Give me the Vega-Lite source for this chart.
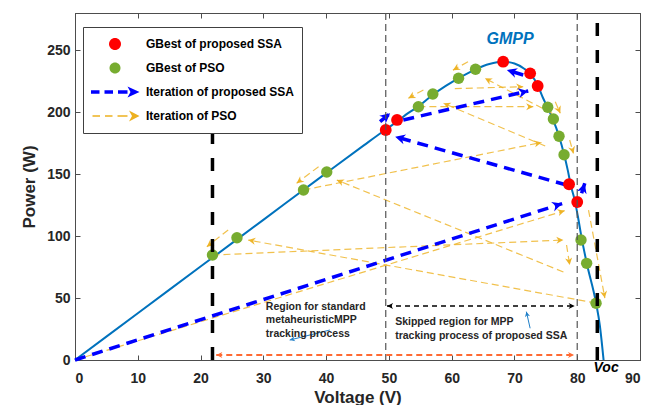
{
  "$schema": "https://vega.github.io/schema/vega-lite/v6.json",
  "width": 565,
  "height": 347,
  "autosize": {"type": "none"},
  "padding": {"left": 75, "top": 13, "right": 22, "bottom": 45},
  "background": "white",
  "config": {
    "font": "Liberation Sans",
    "view": {"stroke": "#4d4d4d", "strokeWidth": 1},
    "axis": {
      "grid": false,
      "domainColor": "#4d4d4d",
      "tickColor": "#4d4d4d",
      "tickSize": -5,
      "labelFont": "Liberation Sans",
      "labelFontWeight": "bold",
      "labelFontSize": 14,
      "labelColor": "#262626",
      "titleFont": "Liberation Sans",
      "titleFontWeight": "bold",
      "titleFontSize": 17,
      "titleColor": "#262626"
    }
  },
  "datasets": {
    "curve": [
      {"v": 0, "p": 0}, {"v": 10, "p": 37.7}, {"v": 20, "p": 75.4}, {"v": 30, "p": 113.1},
      {"v": 40, "p": 150.8}, {"v": 46, "p": 173.2}, {"v": 49.5, "p": 186}, {"v": 51.5, "p": 193},
      {"v": 53, "p": 199}, {"v": 54.7, "p": 204.6}, {"v": 57, "p": 214}, {"v": 59, "p": 221},
      {"v": 61, "p": 227}, {"v": 63.8, "p": 234.5}, {"v": 66, "p": 238.8}, {"v": 68.2, "p": 240.7},
      {"v": 70, "p": 239.2}, {"v": 71.5, "p": 235.2}, {"v": 72.6, "p": 230.5}, {"v": 73.7, "p": 221.8},
      {"v": 74.5, "p": 212}, {"v": 75.3, "p": 203.5}, {"v": 76.1, "p": 194.5}, {"v": 77.1, "p": 180.5},
      {"v": 77.9, "p": 166}, {"v": 78.5, "p": 153}, {"v": 79.0, "p": 140.5}, {"v": 79.6, "p": 129},
      {"v": 80.1, "p": 116}, {"v": 80.7, "p": 98.5}, {"v": 81.5, "p": 78.5}, {"v": 83.0, "p": 46},
      {"v": 83.6, "p": 28}, {"v": 84.2, "p": 0}
    ],
    "ssaBest": [
      {"v": 49.5, "p": 185.6}, {"v": 51.3, "p": 193.7}, {"v": 68.2, "p": 240.7}, {"v": 72.5, "p": 231.3},
      {"v": 73.7, "p": 221.1}, {"v": 78.7, "p": 141.8}, {"v": 80.0, "p": 127.5}
    ],
    "psoBest": [
      {"v": 21.9, "p": 84.7}, {"v": 25.8, "p": 98.7}, {"v": 36.4, "p": 137.2}, {"v": 40.1, "p": 151.7},
      {"v": 54.7, "p": 204.4}, {"v": 57.0, "p": 214.6}, {"v": 61.1, "p": 227.3}, {"v": 63.8, "p": 234.6},
      {"v": 75.3, "p": 204.0}, {"v": 76.2, "p": 194.5}, {"v": 77.1, "p": 180.5}, {"v": 77.9, "p": 165.6},
      {"v": 80.6, "p": 96.8}, {"v": 81.5, "p": 78.0}, {"v": 83.0, "p": 45.8}
    ],
    "psoSteps": [
      {"v": 0, "p": 0, "v2": 78.0, "p2": 120.5},
      {"v": 21.9, "p": 84.7, "v2": 77.8, "p2": 96.8},
      {"v": 83.0, "p": 45.9, "v2": 27.6, "p2": 96.8},
      {"v": 77.8, "p": 71, "v2": 41.7, "p2": 145.2},
      {"v": 36.4, "p": 137.2, "v2": 74.3, "p2": 175.5},
      {"v": 38.8, "p": 156, "v2": 35.3, "p2": 142.6},
      {"v": 24.4, "p": 104.9, "v2": 21.0, "p2": 91.4},
      {"v": 62.6, "p": 240.7, "v2": 60.2, "p2": 233.9},
      {"v": 55.5, "p": 217.9, "v2": 53.1, "p2": 211.2},
      {"v": 76.0, "p": 199, "v2": 65.3, "p2": 227.3},
      {"v": 60.5, "p": 219, "v2": 71.4, "p2": 220.5},
      {"v": 54.7, "p": 204.4, "v2": 73.0, "p2": 204.4},
      {"v": 74.9, "p": 172.7, "v2": 58.7, "p2": 207.1},
      {"v": 76.5, "p": 208.4, "v2": 77.3, "p2": 199.1},
      {"v": 78.8, "p": 177.5, "v2": 79.4, "p2": 166.7},
      {"v": 78.3, "p": 92.8, "v2": 78.8, "p2": 76.7},
      {"v": 81.8, "p": 121, "v2": 84.4, "p2": 50}
    ],
    "ssaSteps": [
      {"v": 0, "p": 0, "v2": 77.6, "p2": 126.2},
      {"v": 78.3, "p": 141.2, "v2": 51.0, "p2": 180.2},
      {"v": 48.6, "p": 192.3, "v2": 50.2, "p2": 199.1},
      {"v": 52.3, "p": 193.7, "v2": 72.2, "p2": 217.1},
      {"v": 71.4, "p": 230, "v2": 68.8, "p2": 234},
      {"v": 80.7, "p": 134.5, "v2": 81.2, "p2": 142.6}
    ],
    "bounds": [{"v": 49.5}, {"v": 80.0}],
    "limits": [
      {"v": 21.9, "p": 0, "p2": 186},
      {"v": 83.2, "p": 0, "p2": 280}
    ],
    "spans": [
      {"span": "skipped", "v": 49.7, "v2": 79.6, "p": 43.6},
      {"span": "search", "v": 22.5, "v2": 79.5, "p": 4.0}
    ],
    "pointers": [
      {"v": 40.6, "p": 24.2, "v2": 34.2, "p2": 16.1},
      {"v": 72.5, "p": 25.6, "v2": 71.9, "p2": 39.0}
    ],
    "notes": [
      {"v": 30.4, "p": 42.8, "label": "Region for standard"},
      {"v": 30.4, "p": 32.3, "label": "metaheuristicMPP"},
      {"v": 30.4, "p": 21.0, "label": "tracking process"},
      {"v": 51.0, "p": 30.7, "label": "Skipped region for MPP"},
      {"v": 51.0, "p": 19.4, "label": "tracking process of proposed SSA"}
    ],
    "series": [
      {"series": "GBest of proposed SSA"},
      {"series": "GBest of PSO"},
      {"series": "Iteration of proposed SSA"},
      {"series": "Iteration of PSO"}
    ]
  },
  "layer": [
    {
      "data": {"name": "curve"},
      "mark": {"type": "line", "color": "#0072BD", "strokeWidth": 2, "interpolate": "monotone"},
      "encoding": {
        "x": {"field": "v", "type": "quantitative", "scale": {"domain": [0, 90], "nice": false},
              "axis": {"orient": "bottom", "title": "Voltage (V)", "values": [0, 10, 20, 30, 40, 50, 60, 70, 80, 90], "labelPadding": 16, "titlePadding": 4}},
        "y": {"field": "p", "type": "quantitative", "scale": {"domain": [0, 280], "nice": false},
              "axis": {"orient": "left", "title": "Power (W)", "values": [0, 50, 100, 150, 200, 250], "labelPadding": 10, "titlePadding": 8}}
      }
    },
    {
      "data": {"name": "psoSteps"},
      "mark": {"type": "rule", "color": "#EDB120", "opacity": 0.8, "strokeWidth": 1.2, "strokeDash": [7, 4]},
      "encoding": {
        "x": {"field": "v", "type": "quantitative", "axis": null},
        "y": {"field": "p", "type": "quantitative", "axis": null},
        "x2": {"field": "v2"},
        "y2": {"field": "p2"}
      }
    },
    {
      "data": {"name": "psoSteps"},
      "transform": [{"calculate": "atan2(-(datum.p2 - datum.p) * 1.2393, (datum.v2 - datum.v) * 6.2778) * 180 / PI", "as": "ang"}],
      "mark": {"type": "point", "filled": true, "color": "#EDB120", "opacity": 0.95, "size": 200, "shape": "M0,0L-1,-0.5L-0.7,0L-1,0.5Z"},
      "encoding": {
        "x": {"field": "v2", "type": "quantitative", "axis": null},
        "y": {"field": "p2", "type": "quantitative", "axis": null},
        "angle": {"field": "ang", "type": "quantitative", "scale": null}
      }
    },
    {
      "data": {"name": "ssaSteps"},
      "mark": {"type": "rule", "color": "#0000FF", "strokeWidth": 3.5, "strokeDash": [11, 7]},
      "encoding": {
        "x": {"field": "v", "type": "quantitative", "axis": null},
        "y": {"field": "p", "type": "quantitative", "axis": null},
        "x2": {"field": "v2"},
        "y2": {"field": "p2"}
      }
    },
    {
      "data": {"name": "ssaSteps"},
      "transform": [{"calculate": "atan2(-(datum.p2 - datum.p) * 1.2393, (datum.v2 - datum.v) * 6.2778) * 180 / PI", "as": "ang"}],
      "mark": {"type": "point", "filled": true, "color": "#0000FF", "opacity": 1, "size": 400, "shape": "M0,0L-1,-0.5L-0.7,0L-1,0.5Z"},
      "encoding": {
        "x": {"field": "v2", "type": "quantitative", "axis": null},
        "y": {"field": "p2", "type": "quantitative", "axis": null},
        "angle": {"field": "ang", "type": "quantitative", "scale": null}
      }
    },
    {
      "data": {"name": "psoBest"},
      "mark": {"type": "point", "filled": true, "color": "#77AC30", "opacity": 1, "size": 130},
      "encoding": {
        "x": {"field": "v", "type": "quantitative", "axis": null},
        "y": {"field": "p", "type": "quantitative", "axis": null}
      }
    },
    {
      "data": {"name": "ssaBest"},
      "mark": {"type": "point", "filled": true, "color": "#FF0000", "opacity": 1, "size": 140},
      "encoding": {
        "x": {"field": "v", "type": "quantitative",
              "axis": {"orient": "top", "labels": false, "title": null, "values": [0, 10, 20, 30, 40, 50, 60, 70, 80, 90]}},
        "y": {"field": "p", "type": "quantitative",
              "axis": {"orient": "right", "labels": false, "title": null, "values": [0, 50, 100, 150, 200, 250]}}
      }
    },
    {
      "data": {"name": "bounds"},
      "mark": {"type": "rule", "color": "#555555", "strokeWidth": 1.2, "strokeDash": [7, 4]},
      "encoding": {"x": {"field": "v", "type": "quantitative", "axis": null}}
    },
    {
      "data": {"name": "limits"},
      "mark": {"type": "rule", "color": "#000000", "strokeWidth": 3.5, "strokeDash": [13, 14]},
      "encoding": {
        "x": {"field": "v", "type": "quantitative", "axis": null},
        "y": {"field": "p", "type": "quantitative", "axis": null},
        "y2": {"field": "p2"}
      }
    },
    {
      "data": {"name": "spans"},
      "transform": [{"filter": "datum.span === 'skipped'"}],
      "layer": [
        {
          "mark": {"type": "rule", "color": "#000000", "strokeWidth": 1.6, "strokeDash": [5, 4]},
          "encoding": {
            "x": {"field": "v", "type": "quantitative", "axis": null},
            "x2": {"field": "v2"},
            "y": {"field": "p", "type": "quantitative", "axis": null}
          }
        },
        {
          "mark": {"type": "point", "filled": true, "color": "#000000", "opacity": 1, "size": 150, "angle": 0, "shape": "M0,0L-1,-0.5L-0.7,0L-1,0.5Z"},
          "encoding": {
            "x": {"field": "v2", "type": "quantitative", "axis": null},
            "y": {"field": "p", "type": "quantitative", "axis": null}
          }
        },
        {
          "mark": {"type": "point", "filled": true, "color": "#000000", "opacity": 1, "size": 150, "angle": 180, "shape": "M0,0L-1,-0.5L-0.7,0L-1,0.5Z"},
          "encoding": {
            "x": {"field": "v", "type": "quantitative", "axis": null},
            "y": {"field": "p", "type": "quantitative", "axis": null}
          }
        }
      ]
    },
    {
      "data": {"name": "spans"},
      "transform": [{"filter": "datum.span === 'search'"}],
      "layer": [
        {
          "mark": {"type": "rule", "color": "#FF6A33", "strokeWidth": 2, "strokeDash": [6, 4]},
          "encoding": {
            "x": {"field": "v", "type": "quantitative", "axis": null},
            "x2": {"field": "v2"},
            "y": {"field": "p", "type": "quantitative", "axis": null}
          }
        },
        {
          "mark": {"type": "point", "filled": true, "color": "#FF6A33", "opacity": 1, "size": 150, "angle": 0, "shape": "M0,0L-1,-0.5L-0.7,0L-1,0.5Z"},
          "encoding": {
            "x": {"field": "v2", "type": "quantitative", "axis": null},
            "y": {"field": "p", "type": "quantitative", "axis": null}
          }
        },
        {
          "mark": {"type": "point", "filled": true, "color": "#FF6A33", "opacity": 1, "size": 150, "angle": 180, "shape": "M0,0L-1,-0.5L-0.7,0L-1,0.5Z"},
          "encoding": {
            "x": {"field": "v", "type": "quantitative", "axis": null},
            "y": {"field": "p", "type": "quantitative", "axis": null}
          }
        }
      ]
    },
    {
      "data": {"name": "pointers"},
      "mark": {"type": "rule", "color": "#1F7FC8", "strokeWidth": 1},
      "encoding": {
        "x": {"field": "v", "type": "quantitative", "axis": null},
        "y": {"field": "p", "type": "quantitative", "axis": null},
        "x2": {"field": "v2"},
        "y2": {"field": "p2"}
      }
    },
    {
      "data": {"name": "pointers"},
      "transform": [{"calculate": "atan2(-(datum.p2 - datum.p) * 1.2393, (datum.v2 - datum.v) * 6.2778) * 180 / PI", "as": "ang"}],
      "mark": {"type": "point", "filled": true, "color": "#1F7FC8", "opacity": 1, "size": 110, "shape": "M0,0L-1,-0.5L-0.7,0L-1,0.5Z"},
      "encoding": {
        "x": {"field": "v2", "type": "quantitative", "axis": null},
        "y": {"field": "p2", "type": "quantitative", "axis": null},
        "angle": {"field": "ang", "type": "quantitative", "scale": null}
      }
    },
    {
      "data": {"name": "notes"},
      "mark": {"type": "text", "align": "left", "baseline": "middle", "font": "Liberation Sans", "fontWeight": "bold", "fontSize": 10.5, "color": "#262626"},
      "encoding": {
        "x": {"field": "v", "type": "quantitative", "axis": null},
        "y": {"field": "p", "type": "quantitative", "axis": null},
        "text": {"field": "label"}
      }
    },
    {
      "data": {"values": [{"v": 69.3, "p": 259, "label": "GMPP"}]},
      "mark": {"type": "text", "align": "center", "baseline": "middle", "font": "Liberation Sans", "fontWeight": "bold", "fontStyle": "italic", "fontSize": 16, "color": "#0072BD"},
      "encoding": {
        "x": {"field": "v", "type": "quantitative", "axis": null},
        "y": {"field": "p", "type": "quantitative", "axis": null},
        "text": {"field": "label"}
      }
    },
    {
      "data": {"values": [{"v": 84.6, "p": -6.5, "label": "Voc"}]},
      "mark": {"type": "text", "align": "center", "baseline": "middle", "font": "Liberation Sans", "fontWeight": "bold", "fontStyle": "italic", "fontSize": 14, "color": "#000000"},
      "encoding": {
        "x": {"field": "v", "type": "quantitative", "axis": null},
        "y": {"field": "p", "type": "quantitative", "axis": null},
        "text": {"field": "label"}
      }
    },
    {
      "data": {"name": "series"},
      "transform": [{"filter": "false"}],
      "mark": {"type": "point", "filled": true, "opacity": 1, "size": 2500},
      "encoding": {
        "color": {
          "field": "series", "type": "nominal",
          "scale": {"domain": ["GBest of proposed SSA", "GBest of PSO", "Iteration of proposed SSA", "Iteration of PSO"],
                    "range": ["#FF0000", "#77AC30", "#0000FF", "#EDB120"]},
          "legend": {
            "title": null, "orient": "none", "legendX": 8, "legendY": 14,
            "symbolSize": 2500, "symbolStrokeWidth": 0, "symbolOpacity": 1,
            "clipHeight": 20, "rowPadding": 4, "padding": 7, "labelOffset": 6, "labelLimit": 260,
            "labelFont": "Liberation Sans", "labelFontSize": 12, "labelFontWeight": "bold", "labelColor": "#000000",
            "strokeColor": "#404040", "fillColor": "#ffffff", "cornerRadius": 0
          }
        },
        "shape": {
          "field": "series", "type": "nominal",
          "scale": {"domain": ["GBest of proposed SSA", "GBest of PSO", "Iteration of proposed SSA", "Iteration of PSO"],
                    "range": [
                      "M0.24,0A0.24,0.24,0,1,1,-0.24,0A0.24,0.24,0,1,1,0.24,0Z",
                      "M0.22,0A0.22,0.22,0,1,1,-0.22,0A0.22,0.22,0,1,1,0.22,0Z",
                      "M-0.96,-0.07H-0.62V0.07H-0.96Z M-0.42,-0.07H-0.08V0.07H-0.42Z M0.12,-0.07H0.5V0.07H0.12Z M0.5,-0.22L0.98,0L0.5,0.22L0.62,0Z",
                      "M-0.9,-0.028H-0.6V0.028H-0.9Z M-0.4,-0.028H-0.1V0.028H-0.4Z M0.1,-0.028H0.5V0.028H0.1Z M0.56,-0.22L0.98,0L0.56,0.22L0.68,0Z"
                    ]}
        }
      }
    }
  ],
  "resolve": {"axis": {"x": "independent", "y": "independent"}}
}
